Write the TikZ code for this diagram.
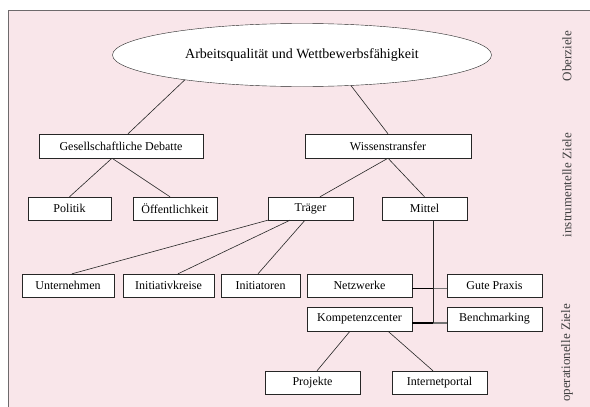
\documentclass[tikz,border=0pt]{standalone}
\usepackage{fontspec}
\setmainfont{Liberation Serif}
\usetikzlibrary{shapes.geometric}
\definecolor{zielrosa}{HTML}{F9E6EA}
\definecolor{rand}{HTML}{6E6A6C}

\begin{document}
\begin{tikzpicture}[x=1pt,y=-1pt,
    ziel/.style={draw=black!85,fill=white,inner sep=0pt,minimum height=23pt,font=\fontsize{12}{14}\selectfont},
    ebene/.style={rotate=90,text=black!75,font=\fontsize{13}{15}\selectfont},
    ast/.style={draw=black!85,line width=.6pt},
    dick/.style={draw=black,line width=1.3pt},
    grau/.style={draw=black!55,line width=1.1pt}]

    \useasboundingbox (0,0) rectangle (590,407);
    \fill[zielrosa] (8,10) rectangle (590,407);
    \draw[rand,line width=1pt] (8,407) -- (8,10) -- (590,10);

    \node[draw=black!85,fill=white,ellipse,inner sep=0pt,minimum width=379pt,minimum height=63pt,
          font=\fontsize{14}{16}\selectfont] (oben) at (302,55) {Arbeitsqualität und Wettbewerbsfähigkeit};

    \node[ziel,minimum width=164pt,minimum height=24pt] (gesell) at (121,146) {Gesellschaftliche Debatte};
    \node[ziel,minimum width=166pt,minimum height=24pt] (wissen) at (388,146) {Wissenstransfer};

    \node[ziel,minimum width=83pt] (politik) at (69.5,208.5) {Politik};
    \node[ziel,minimum width=84pt] (oeff)    at (175,208.5)  {Öffentlichkeit};
    \node[ziel,minimum width=85pt] (traeger) at (310.5,208.5) {Träger};
    \node[ziel,minimum width=85pt] (mittel)  at (424.5,208.5) {Mittel};

    \node[ziel,minimum width=92pt]  (untern)  at (68,285.5)    {Unternehmen};
    \node[ziel,minimum width=91pt]  (kreise)  at (168.5,285.5) {Initiativkreise};
    \node[ziel,minimum width=79pt]  (initiat) at (260.5,285.5) {Initiatoren};
    \node[ziel,minimum width=105pt] (netz)    at (359.5,285.5) {Netzwerke};
    \node[ziel,minimum width=95pt]  (praxis)  at (494.5,285.5) {Gute Praxis};
    \node[ziel,minimum width=105pt,minimum height=24pt] (kompz) at (359.5,319) {Kompetenzcenter};
    \node[ziel,minimum width=95pt,minimum height=24pt]  (bench) at (494.5,319) {Benchmarking};

    \node[ziel,minimum width=95pt] (projekte) at (312.5,382.5) {Projekte};
    \node[ziel,minimum width=95pt] (portal)   at (439.5,382.5) {Internetportal};

    \node[ebene] (ober)  at (567,56)  {Oberziele};
    \node[ebene] (instr) at (567,185) {instrumentelle Ziele};
    \node[ebene] (oper)  at (567,353) {operationelle Ziele};

    % Verbindungen
    \draw[ast] (oben.192) -- ([xshift=7pt]gesell.north);
    \draw[ast] (oben.328) -- (wissen.north);
    \draw[ast] ([xshift=-9pt]gesell.south) -- (politik.north);
    \draw[ast] ([xshift=-9pt]gesell.south) -- ([xshift=-5pt]oeff.north);
    \draw[ast] (wissen.south) -- ([xshift=9.5pt]traeger.north);
    \draw[ast] (wissen.south) -- (mittel.north);
    \draw[ast] (traeger.south west) -- ([xshift=4pt]untern.north);
    \draw[ast] ([xshift=-20.5pt]traeger.south) -- ([xshift=9.5pt]kreise.north);
    \draw[ast] ([xshift=-5.5pt]traeger.south) -- ([xshift=-2.5pt]initiat.north);
    \draw[ast] ([xshift=-9.5pt]kompz.south) -- ([xshift=4.5pt]projekte.north);
    \draw[ast] ([xshift=28.5pt]kompz.south) -- ([xshift=-6.5pt]portal.north);

    % Mittel -> Netzwerke, Kompetenzcenter
    \coordinate (mfuss) at ([xshift=8.5pt]mittel.south);
    \coordinate (netzrand) at ([yshift=-3pt]netz.east);
    \coordinate (kompzrand) at ([yshift=-4pt]kompz.east);
    \coordinate (knoten1) at (mfuss |- netzrand);
    \coordinate (knoten2) at (mfuss |- kompzrand);
    \draw[grau] (knoten1) -- (knoten1 -| praxis.west);
    \draw[grau] (knoten2) -- (knoten2 -| bench.west);
    \draw[dick] (netzrand) -- (knoten1);
    \draw[dick] (kompzrand) -- (knoten2);
    \draw[ast] (mfuss) -- (knoten2);

\end{tikzpicture}
\end{document}
